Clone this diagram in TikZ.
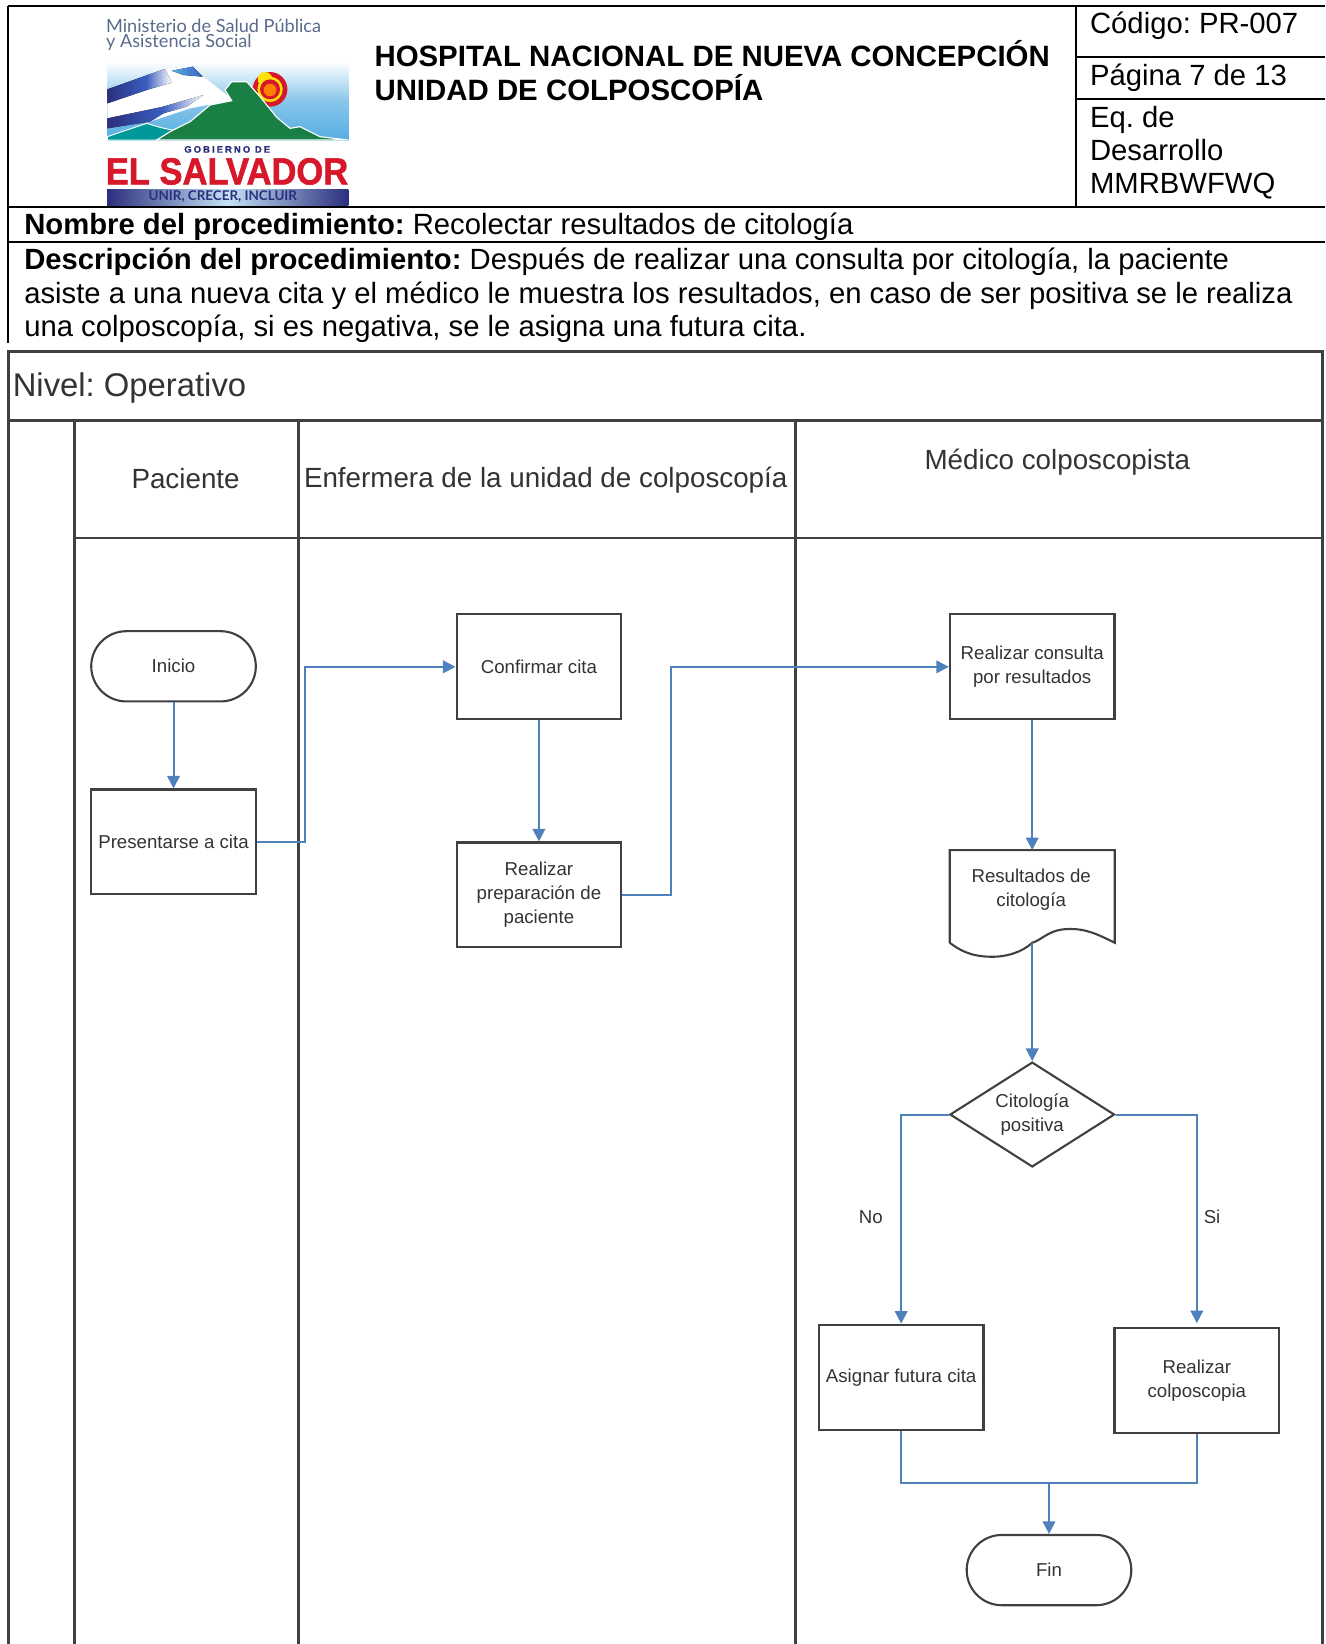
\documentclass[tikz,border=0pt]{standalone}
\usepackage{graphicx}
\usepackage{fontspec}
\setmainfont{Liberation Sans}
\newfontfamily\logofont{Lato}
\usetikzlibrary{arrows.meta,shapes.geometric,shapes.misc}
\definecolor{flowblue}{HTML}{4F81BD}
\definecolor{linegray}{HTML}{404040}
\definecolor{textgray}{HTML}{333333}
\definecolor{logoblue}{HTML}{2B2F7E}
\definecolor{midblue}{HTML}{3A5FBF}
\definecolor{logored}{HTML}{D7172A}
\definecolor{logogreen}{HTML}{1A7F45}
\definecolor{skyblue}{HTML}{55AEE2}
\definecolor{ministry}{HTML}{5A6A8C}
\tikzset{
  doctext/.style={anchor=base west,inner sep=0pt,font=\fontsize{27.9}{32}\selectfont,text=black},
  titletext/.style={anchor=base west,inner sep=0pt,font=\fontsize{28.05}{32}\selectfont\bfseries,text=black},
  rule/.style={draw=black,line width=2pt},
  lane/.style={draw=linegray,line width=2.6pt},
  lanetext/.style={inner sep=0pt,font=\fontsize{26.5}{30}\selectfont,text=textgray},
  flowbox/.style={draw=linegray,line width=2pt,rectangle,minimum width=157pt,inner sep=0pt,align=center,font=\fontsize{17.8}{23}\selectfont,text=textgray},
  terminal/.style={flowbox,rounded rectangle,minimum height=67pt},
  procbox/.style={flowbox,minimum height=100pt},
  decision/.style={flowbox,diamond,aspect=1.57,minimum width=157pt,minimum height=100pt},
  flow/.style={draw=flowblue,line width=1.9pt,-{Triangle[length=12pt,width=12pt,fill=flowblue]}},
  flowplain/.style={draw=flowblue,line width=1.9pt},
  edgetext/.style={inner sep=0pt,font=\fontsize{17.8}{23}\selectfont,text=textgray},
  flowtext/.style={inner sep=0pt,align=center,font=\fontsize{17.8}{23}\selectfont,text=textgray},
}
\begin{document}
\frenchspacing
\begin{tikzpicture}[x=1pt,y=-1pt]
\useasboundingbox (0,0) rectangle (1264,1568);
\fill[white] (0,0) rectangle (1264,1568);

% document table rules
\draw[rule] (8,6) -- (1264,6);
\draw[rule] (8,6) -- (8,327);
\draw[rule] (1026,6) -- (1026,197);
\draw[rule] (1026,54) -- (1264,54);
\draw[rule] (1026,94.5) -- (1264,94.5);
\draw[rule] (8,197) -- (1264,197);
\draw[rule] (8,230.5) -- (1264,230.5);

% logo
\node[anchor=north west,inner sep=0pt,text=ministry,align=left,font=\logofont\fontsize{17.3}{14}\selectfont] (min) at (101,18.5) {Ministerio de Salud Pública\\y Asistencia Social};
\begin{scope}[shift={(85.85,38.16)},x=0.318pt,y=-0.318pt]
  \fill[top color=white,bottom color=skyblue,middle color=skyblue!70!white] (52,65) rectangle (775,300);
  % sun
  \fill[logored] (540,148) circle[radius=52];
  \fill[yellow!85!orange] (525,118) circle[radius=22];
  \fill[yellow!85!orange] (540,148) circle[radius=38];
  \fill[logored] (540,148) circle[radius=30];
  \fill[orange] (540,150) circle[radius=19];
  % flag
  \fill[white] (52,150) -- (220,88) -- (305,80) -- (340,110) -- (430,180) -- (300,205) -- (180,245) -- (52,265) -- cycle;
  \fill[left color=logoblue,right color=midblue] (52,148) -- (170,106) -- (170,150) -- (52,190) -- cycle;
  \fill[left color=midblue,right color=white] (169,106) -- (225,87) -- (245,128) -- (169,150) -- cycle;
  \fill[left color=skyblue,right color=midblue] (245,92) -- (308,80) -- (338,110) -- (280,105) -- cycle;
  \fill[left color=logoblue,right color=midblue] (52,235) -- (220,200) -- (220,220) -- (180,245) -- (52,265) -- cycle;
  \fill[left color=midblue,right color=white] (219,200) -- (340,165) -- (290,200) -- (219,220) -- cycle;
  % hills
  \fill[teal!80!cyan,draw=white,line width=0.9pt] (52,290) -- (110,270) -- (170,250) -- (210,262) -- (255,272) -- (200,300) -- (52,300) -- cycle;
  \fill[logogreen,draw=white,line width=1.1pt] (200,300) -- (240,275) -- (300,245) -- (360,195) -- (425,182) -- (405,150) -- (425,125) -- (470,125) -- (510,170) -- (560,232) -- (600,265) -- (630,260) -- (690,290) -- (775,300) -- cycle;
  % banner
  \fill[left color=logoblue,right color=logoblue,middle color=skyblue!35!white] (52,448) rectangle (775,497);
\end{scope}
\node[inner sep=0pt,text=logoblue] (gob) at (216.7,142.5) {\fontsize{9}{10}\selectfont\bfseries\addfontfeature{LetterSpace=22,FakeBold=1}GOBIERNO DE};
\node[inner sep=0pt,text=logored] (els) at (216.5,163.5) {\scalebox{0.915}[1]{\fontsize{36}{40}\selectfont\bfseries\addfontfeature{FakeBold=1.5}EL SALVADOR}};
\node[inner sep=0pt,text=logoblue] (unir) at (212.5,187.5) {\logofont\fontsize{12.8}{14}\selectfont\bfseries UNIR, CRECER, INCLUIR};

% header text
\node[titletext] (t1) at (357,63) {HOSPITAL NACIONAL DE NUEVA CONCEPCIÓN};
\node[titletext] (t2) at (357,96) {UNIDAD DE COLPOSCOPÍA};
\node[doctext] (cod) at (1039.5,32) {Código: PR-007};
\node[doctext] (pag) at (1039.5,82) {Página 7 de 13};
\node[doctext] (eq1) at (1039.5,122) {Eq. de};
\node[doctext] (eq2) at (1039.5,153) {Desarrollo};
\node[doctext] (eq3) at (1039.5,185) {MMRBWFWQ};
\node[doctext] (nom) at (23,223.5) {\textbf{Nombre del procedimiento:} Recolectar resultados de citología};
\node[doctext] (d1) at (23,257) {\textbf{Descripción del procedimiento:} Después de realizar una consulta por citología, la paciente};
\node[doctext] (d2) at (23,289) {asiste a una nueva cita y el médico le muestra los resultados, en caso de ser positiva se le realiza};
\node[doctext] (d3) at (23,321) {una colposcopía, si es negativa, se le asigna una futura cita.};

% swimlane frame
\draw[lane] (8,1568) -- (8,335) -- (1261,335) -- (1261,1568);
\draw[lane] (8,401) -- (1261,401);
\draw[lane] (71,401) -- (71,1568);
\draw[lane] (285,401) -- (285,1568);
\draw[lane] (759,401) -- (759,1568);
\draw[lane] (71,513) -- (1261,513);

\node[anchor=base west,inner sep=0pt,font=\fontsize{31.3}{36}\selectfont,text=textgray] (niv) at (12,378) {Nivel: Operativo};
\node[lanetext] (lp) at (177,456) {Paciente};
\node[lanetext] (le) at (520.5,457.5) {Enfermera de la unidad de colposcopía};
\node[lanetext] (lm) at (1008.5,441) {Médico colposcopista};

% flow nodes
\node[terminal] (ini) at (165.5,635.5) {Inicio};
\node[procbox] (pre) at (165.5,803) {Presentarse a cita};
\node[procbox] (con) at (514,636) {Confirmar cita};
\node[procbox] (pri) at (514,853.5) {Realizar\\preparación de\\paciente};
\node[procbox] (rcn) at (984.5,636) {Realizar consulta\\por resultados};
\node[rectangle,minimum width=157pt,minimum height=88pt,inner sep=0pt] (res) at (984.5,855) {};
\draw[linegray,line width=2pt] (res.south west) -- (res.north west) -- (res.north east) -- (res.south east)
   .. controls (1045,890) and (1035,886) .. (1020.7,886)
   .. controls (1000,886) and (995,896) .. (res.south)
   .. controls (975,908) and (960,913) .. (944,912.5)
   .. controls (925,912) and (915,906) .. (res.south west);
\node[flowtext] (rest) at (983.5,848.5) {Resultados de\\citología};
\node[decision] (dec) at (984.5,1063) {Citología\\positiva};
\node[procbox] (asi) at (859.5,1313.5) {Asignar futura cita};
\node[procbox] (col) at (1141.5,1317) {Realizar\\colposcopia};
\node[terminal] (fin) at (1000.5,1497.5) {Fin};

% routing points
\coordinate (b2) at (291,636);
\coordinate (b4) at (640,636);
\coordinate (j) at (1000.5,1414);

% connectors
\draw[flow] (ini.south) -- (pre.north);
\draw[flow] (pre.east) -| (b2) -- (con.west);
\draw[flow] (con.south) -- (pri.north);
\draw[flow] (pri.east) -| (b4) -- (rcn.west);
\draw[flow] (rcn.south) -- (res.north);
\draw[flow] (res.south) -- (dec.north);
\draw[flow] (dec.west) -| (asi.north);
\draw[flow,shorten >=4pt] (dec.east) -| (col.north);
\draw[flowplain] (asi.south) |- (j);
\draw[flowplain] (col.south) |- (j);
\draw[flow] (j) -- (fin.north);

\node[edgetext] (no) at (830.5,1161) {No};
\node[edgetext] (si) at (1156,1161) {Si};
\end{tikzpicture}
\end{document}
